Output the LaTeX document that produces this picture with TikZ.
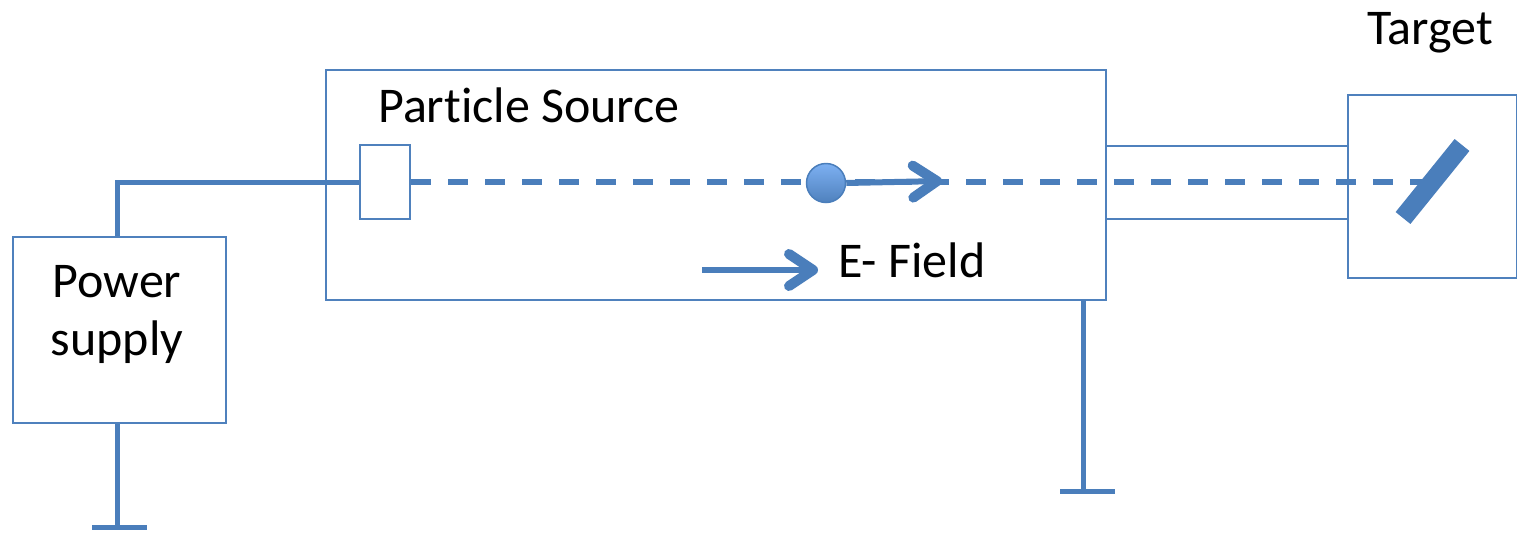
\documentclass[tikz,border=0pt]{standalone}
\usepackage{fontspec}
\setmainfont[Ligatures=NoCommon]{Carlito}
\usetikzlibrary{arrows.meta}
\definecolor{lb}{HTML}{4F81BD}
\definecolor{wb}{HTML}{4A7EBB}
\definecolor{ballt}{HTML}{7DB0F2}
\tikzset{
  box/.style={draw=lb, line width=2pt, fill=white, inner sep=0pt},
  wire/.style={draw=wb, line width=5pt},
  beam/.style={draw=wb, line width=6pt, dash pattern=on 20pt off 17pt},
  arr/.style={draw=wb, line width=6pt, -{Straight Barb[length=24pt,width=32pt,line width=10pt 0,round]}},
  lbl/.style={font=\fontsize{50}{60}\selectfont, inner sep=0pt, text=black},
}
\begin{document}
\begin{tikzpicture}[x=1pt,y=-1pt]
\useasboundingbox (0,0) rectangle (1517,536);
% main box
\node[box, minimum width=780pt, minimum height=230pt] (src) at (716,185) {};
% power supply
\node[box, minimum width=213pt, minimum height=186pt] (ps) at (119.5,330) {};
\node[lbl, anchor=base] (pst1) at (117,297) {Power};
\node[lbl, anchor=base] (pst2) at (117,355) {supply};
% tube
\coordinate (t1a) at (1106,146);
\coordinate (t1b) at (1347,146);
\coordinate (t2a) at (1106,219);
\coordinate (t2b) at (1347,219);
\draw[lb, line width=2pt] (t1a) -- (t1b) (t2a) -- (t2b);
% target box
\node[box, minimum width=169pt, minimum height=183pt] (tgt) at (1432,186.5) {};
\node[lbl, anchor=base] (tgtl) at (1430,44) {Target};
% emitter
\node[box, minimum width=50pt, minimum height=74pt] (emit) at (385,182) {};
% wire
\draw[wire] (ps.north -| 117,0) |- (emit.west);
% beam
\coordinate (bend) at (1430,182);
\draw[beam] (emit.east) -- (bend);
% target plate
\coordinate (p1) at (1403,218);
\coordinate (p2) at (1462,145);
\draw[wb, line width=19pt] (p1) -- (p2);
% particle
\node[circle, minimum size=39pt, inner sep=0pt, draw=wb, line width=1.5pt, top color=ballt, bottom color=lb] (pt) at (826,183) {};
\coordinate (tip) at (942,181);
\draw[arr] (pt.east) -- (tip);
% labels
\node[lbl, anchor=base west] (pslab) at (378,122) {Particle Source};
\coordinate (ef1) at (702,270);
\coordinate (ef2) at (818,270);
\node[lbl, anchor=base west] (efl) at (838,277) {E- Field};
\draw[arr] (ef1) -- (ef2);
% grounds
\coordinate (g1) at (117,527);
\draw[wire] (ps.south -| g1) -- (g1);
\draw[wire] (92,527) -- (147,527);
\coordinate (g2t) at (1083,300);
\coordinate (g2) at (1083,491);
\draw[wire] (g2t) -- (g2);
\draw[wire] (1060,491) -- (1115,491);
\end{tikzpicture}
\end{document}
